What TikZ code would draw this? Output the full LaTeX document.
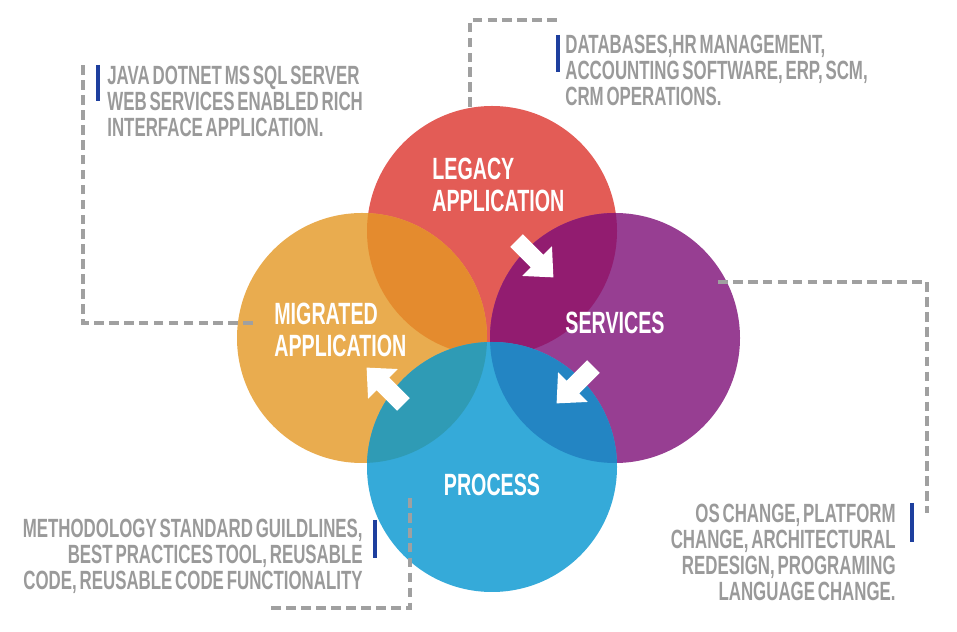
\documentclass[tikz,border=0pt]{standalone}
\usepackage{fontspec}
\usepackage{tikz}
\usetikzlibrary{arrows.meta}

\newfontfamily\condfont{Liberation Sans}[FakeStretch=0.64,WordSpace=0.6]

\definecolor{legacyred}{HTML}{E35C56}
\definecolor{migratedorange}{HTML}{E9AC4F}
\definecolor{servicespurple}{HTML}{973E92}
\definecolor{processblue}{HTML}{35AAD9}
\definecolor{redorange}{HTML}{E48B2E}
\definecolor{redpurple}{HTML}{921C70}
\definecolor{orangeblue}{HTML}{2F9BB5}
\definecolor{purpleblue}{HTML}{2385C3}
\definecolor{notegray}{HTML}{9A9A9A}
\definecolor{dashgray}{HTML}{A0A0A0}
\definecolor{barblue}{HTML}{1E3F9E}

\tikzset{
	circlelabel/.style={text=white, inner sep=0pt, font={\condfont\bfseries\fontsize{17.5}{18.2}\selectfont}},
	notetext/.style={text=notegray, inner sep=0pt, font={\condfont\bfseries\fontsize{15}{14.8}\selectfont}},
	leader/.style={draw=dashgray, line width=1.8pt, dash pattern=on 5.5pt off 3pt},
	notebar/.style={draw=barblue, line width=1.8pt},
	blockarrow/.pic={\fill[white] (-26,-9) -- (3,-9) -- (3,-21) -- (26,0) -- (3,21) -- (3,9) -- (-26,9) -- cycle;}
}

\begin{document}
\begin{tikzpicture}[x=0.02cm, y=0.02cm]
	\useasboundingbox (0,0) rectangle (957,632);

	\coordinate (legacy) at (492,401);
	\coordinate (migrated) at (362,294);
	\coordinate (services) at (615,294);
	\coordinate (process) at (492,165);

	\fill[legacyred] (legacy) circle (125);			%top circle
	\fill[migratedorange] (migrated) circle (125);	%left circle
	\fill[servicespurple] (services) circle (125);	%right circle
	\begin{scope}
		\clip (legacy) circle (125);
		\fill[redorange] (migrated) circle (125);
		\fill[redpurple] (services) circle (125);
	\end{scope}
	\fill[processblue] (process) circle (125);		%bottom circle
	\begin{scope}
		\clip (process) circle (125);
		\fill[orangeblue] (migrated) circle (125);
		\fill[purpleblue] (services) circle (125);
	\end{scope}

	\node[circlelabel, anchor=west, align=left] (legacylbl) at (432,447) {LEGACY\\APPLICATION};
	\node[circlelabel, anchor=west, align=left] (migratedlbl) at (274,302) {MIGRATED\\APPLICATION};
	\node[circlelabel] (serviceslbl) at (615,309) {SERVICES};
	\node[circlelabel] (processlbl) at (492,147) {PROCESS};

	\pic[rotate=-45] at (535,373) {blockarrow};		%legacy to services
	\pic[rotate=-135] at (575,247) {blockarrow};	%services to process
	\pic[rotate=135] at (385,246) {blockarrow};		%process to migrated

	% notes
	\node[notetext, anchor=west, align=left] (javanote) at (107,531)
		{JAVA DOTNET MS SQL SERVER\\WEB SERVICES ENABLED RICH\\INTERFACE APPLICATION.};
	\node[notetext, anchor=west, align=left] (legacynote) at (565,562)
		{DATABASES,HR MANAGEMENT,\\ACCOUNTING SOFTWARE, ERP, SCM,\\CRM OPERATIONS.};
	\node[notetext, anchor=east, align=right] (servicesnote) at (896,80)
		{OS CHANGE, PLATFORM\\CHANGE, ARCHITECTURAL\\REDESIGN, PROGRAMING\\LANGUAGE CHANGE.};
	\node[notetext, anchor=east, align=right] (processnote) at (363,76)
		{METHODOLOGY STANDARD GUILDLINES,\\BEST PRACTICES TOOL, REUSABLE\\CODE, REUSABLE CODE FUNCTIONALITY};

	\draw[notebar] (98,567) -- (98,531);
	\draw[notebar] (558,597) -- (558,560);
	\draw[notebar] (912,129) -- (912,90);
	\draw[notebar] (375,112) -- (375,74);

	% dashed leaders
	\coordinate (javafoot) at (253,309);
	\coordinate (javaend) at (83,569);
	\coordinate (legacyfoot) at (470,525);
	\coordinate (legacyend) at (557,612);
	\coordinate (servicesfoot) at (718,350);
	\coordinate (servicesend) at (927,119);
	\coordinate (processfoot) at (410,134);
	\coordinate (processend) at (267,24);
	\draw[leader] (javafoot) -| (javaend);
	\draw[leader] (legacyfoot) |- (legacyend);
	\draw[leader] (servicesfoot) -| (servicesend);
	\draw[leader] (processfoot) |- (processend);
\end{tikzpicture}
\end{document}
